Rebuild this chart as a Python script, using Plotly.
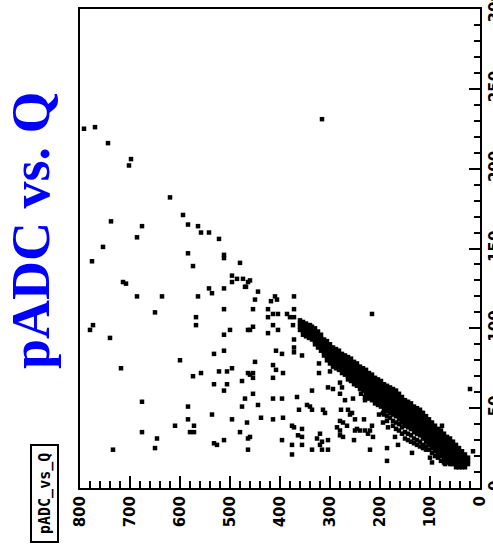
import plotly.graph_objects as go

# Isolated events: pulse ADC value and charge Q
padc_sparse = [
    792, 770, 744, 698, 702, 620, 594, 584, 564, 558, 542, 522, 738, 676, 686, 754,
    776, 584, 574, 512, 512, 480, 496, 486, 474, 496, 468, 464, 714, 708, 686, 636,
    564, 542, 536, 512, 512, 650, 568, 568, 774, 780, 740, 500, 512, 464, 532, 512,
    600, 718, 574, 558, 522, 506, 496, 464, 532, 506, 512, 476, 676, 470, 584, 476,
    536, 584, 572, 610, 496, 466, 580, 572, 676, 480, 646, 532, 526, 512, 464, 650,
    734, 464, 460, 470, 444, 450, 410, 418, 406, 372, 454, 424, 372, 424, 414, 404,
    386, 380, 372, 216, 454, 414, 374, 356, 340, 460, 404, 424, 372, 372, 372, 356,
    408, 396, 450, 414, 408, 414, 394, 454, 460, 454, 322, 322, 300, 336, 304, 294,
    280, 276, 280, 454, 444, 414, 396, 366, 362, 346, 340, 336, 314, 310, 278, 264,
    270, 254, 238, 230, 230, 438, 414, 394, 376, 372, 356, 364, 356, 320, 286, 280,
    274, 266, 280, 260, 250, 256, 232, 280, 274, 250, 240, 230, 220, 224, 214, 246,
    252, 216, 460, 396, 376, 356, 326, 316, 304, 320, 316, 304, 336, 376, 220, 186,
    186, 202, 194, 186, 184, 20, 14, 164, 170, 194, 184, 136, 100, 96, 70, 76,
    76, 134, 116, 154, 316,
]
q_sparse = [
    225, 226, 216, 206, 202, 182, 171, 165, 164, 160, 160, 156, 167, 164, 157, 151,
    142, 147, 139, 146, 144, 141, 133, 131, 131, 129, 126, 129, 129, 128, 120, 120,
    120, 125, 122, 125, 112, 110, 107, 102, 102, 99, 94, 99, 96, 99, 84, 86,
    80, 75, 70, 72, 73, 73, 75, 72, 65, 65, 61, 67, 54, 56, 51, 51,
    46, 43, 39, 39, 43, 41, 35, 35, 35, 35, 31, 28, 27, 30, 31, 25,
    24, 24, 130, 126, 123, 118, 120, 117, 118, 120, 112, 112, 112, 107, 109, 109,
    109, 107, 107, 109, 101, 102, 102, 101, 102, 99, 99, 97, 93, 88, 85, 83,
    86, 84, 79, 77, 74, 69, 72, 72, 71, 69, 78, 72, 73, 61, 63, 62,
    66, 63, 59, 59, 52, 56, 56, 57, 49, 52, 51, 49, 49, 47, 49, 49,
    55, 56, 59, 57, 55, 44, 43, 44, 39, 38, 37, 33, 32, 34, 38, 42,
    41, 39, 36, 46, 43, 47, 43, 33, 32, 36, 36, 36, 36, 34, 32, 37,
    30, 39, 32, 30, 27, 27, 31, 29, 30, 27, 24, 24, 24, 21, 24, 25,
    17, 46, 47, 42, 49, 62, 23, 27, 32, 41, 38, 22, 19, 16, 15, 39,
    32, 38, 47, 55, 231,
]

# Dense correlated band: pADC column value and the Q values recorded at it
band_padc = [
    360, 354, 348, 342, 336, 330, 324, 318, 312, 306, 300, 294, 288, 282, 276, 270,
    264, 258, 252, 246, 240, 234, 228, 222, 216, 210, 204, 198, 192, 186, 180, 174,
    168, 162, 156, 150, 144, 138, 132, 126, 120, 114, 108, 102, 96, 90, 84, 78,
    72, 66, 60, 54, 48, 42, 36, 30, 24,
]
band_q = [
    [105, 103, 101, 99],
    [104, 102, 100, 98, 96],
    [103, 101, 99, 97, 95],
    [102, 100, 98, 96, 94],
    [101, 99, 97, 95, 93],
    [100, 98, 96, 94, 92, 90],
    [98, 96, 94, 92, 90, 88],
    [96, 94, 92, 90, 88, 86],
    [93, 91, 89, 87, 85, 83],
    [92, 90, 88, 86, 84, 82, 80],
    [90, 88, 86, 84, 82, 80, 78],
    [88, 86, 84, 82, 80, 78, 76],
    [87, 85, 83, 81, 79, 77, 75],
    [86, 84, 82, 80, 78, 76, 74],
    [84, 82, 80, 78, 76, 74, 72],
    [83, 81, 79, 77, 75, 73, 71],
    [82, 80, 78, 76, 74, 72, 70, 68],
    [81, 79, 77, 75, 73, 71, 69, 67],
    [79, 77, 75, 73, 71, 69, 67, 65],
    [78, 76, 74, 72, 70, 68, 66, 64],
    [76, 74, 72, 70, 68, 66, 64, 62],
    [75, 73, 71, 69, 67, 65, 63, 61],
    [74, 72, 70, 68, 66, 64, 62, 60, 58],
    [72, 70, 68, 66, 64, 62, 60, 58, 56],
    [71, 69, 67, 65, 63, 61, 59, 57, 55],
    [69, 67, 65, 63, 61, 59, 57, 55, 53],
    [68, 66, 64, 62, 60, 58, 56, 54, 52],
    [67, 65, 63, 61, 59, 57, 55, 53, 51],
    [65, 63, 61, 59, 57, 55, 53, 51, 49, 46],
    [64, 62, 60, 58, 56, 54, 52, 50, 48, 45],
    [63, 61, 59, 57, 55, 53, 51, 49, 47, 44],
    [62, 60, 58, 56, 54, 52, 50, 48, 46, 42, 39],
    [61, 59, 57, 55, 53, 51, 49, 47, 45, 41, 37],
    [59, 57, 55, 53, 51, 49, 47, 45, 43, 40, 36],
    [57, 55, 53, 51, 49, 47, 45, 43, 41, 38, 34],
    [55, 53, 51, 49, 47, 45, 43, 41, 39, 35, 31],
    [54, 52, 50, 48, 46, 44, 42, 40, 38, 34, 30],
    [53, 51, 49, 47, 45, 43, 41, 39, 37, 33, 29],
    [51, 49, 47, 45, 43, 41, 39, 37, 35, 31, 28],
    [50, 48, 46, 44, 42, 40, 38, 36, 34, 30, 27],
    [49, 47, 45, 43, 41, 39, 37, 35, 33, 29, 26],
    [47, 45, 43, 41, 39, 37, 35, 33, 31, 27, 25],
    [45, 43, 41, 39, 37, 35, 33, 31, 29, 26, 24],
    [43, 41, 39, 37, 35, 33, 31, 29, 27, 24],
    [41, 39, 37, 35, 33, 31, 29, 27, 25, 22],
    [39, 37, 35, 33, 31, 29, 27, 25, 23, 20],
    [37, 35, 33, 31, 29, 27, 25, 23, 21, 19],
    [36, 34, 32, 30, 28, 26, 24, 22, 20, 17],
    [34, 32, 30, 28, 26, 24, 22, 20, 18, 16],
    [32, 30, 28, 26, 24, 22, 20, 18, 16],
    [31, 29, 27, 25, 23, 21, 19, 17, 15],
    [29, 27, 25, 23, 21, 19, 17, 15],
    [27, 25, 23, 21, 19, 17, 15, 13],
    [25, 23, 21, 19, 17, 15, 13],
    [23, 21, 19, 17, 15, 13],
    [21, 19, 17, 15, 13],
    [19, 17, 15],
]

padc_ticks = [0, 100, 200, 300, 400, 500, 600, 700, 800]
q_ticks = [0, 50, 100, 150, 200, 250, 300]

# Flatten the band columns into point lists
padc_all = list(padc_sparse)
q_all = list(q_sparse)
for p, qs in zip(band_padc, band_q):
    for q in qs:
        padc_all.append(p)
        q_all.append(q)

tick_font = dict(family="DejaVu Sans", size=15, color="black", weight="bold")

fig = go.Figure()
fig.add_trace(go.Scatter(
    x=padc_all, y=q_all, mode="markers",
    marker=dict(symbol="square", size=4.5, color="black", line=dict(width=0)),
    hoverinfo="skip",
))

fig.update_layout(
    width=493, height=558,
    margin=dict(l=80, r=13, t=9, b=70),
    plot_bgcolor="white", paper_bgcolor="white",
    showlegend=False,
    xaxis=dict(
        range=[800, 0], tickvals=padc_ticks, ticktext=[str(v) for v in padc_ticks],
        ticks="inside", ticklen=12, tickwidth=2, tickcolor="black",
        minor=dict(ticks="inside", ticklen=7, tickwidth=2, tickcolor="black", dtick=20, tick0=0),
        showline=True, linewidth=2, linecolor="black", mirror=True, automargin=False,
        showgrid=False, zeroline=False, tickangle=-90, tickfont=tick_font,
    ),
    yaxis=dict(
        side="right", range=[0, 300], tickvals=q_ticks, ticktext=[str(v) for v in q_ticks],
        ticks="inside", ticklen=11, tickwidth=2, tickcolor="black",
        minor=dict(ticks="inside", ticklen=6, tickwidth=2, tickcolor="black", dtick=10, tick0=0),
        showline=True, linewidth=2, linecolor="black", mirror=True, automargin=False,
        showgrid=False, zeroline=False, tickangle=-90, tickfont=tick_font,
        ticklabeloverflow="allow",
    ),
)

# Histogram name box
fig.add_shape(type="rect", xref="paper", yref="paper",
              x0=-0.1225, x1=-0.055, y0=-0.1127, y1=0.0898,
              line=dict(color="black", width=2), fillcolor="white")
fig.add_annotation(text="pADC_vs_Q", xref="paper", yref="paper",
                   x=-0.08875, y=-0.0115, showarrow=False, textangle=-90,
                   xanchor="center", yanchor="middle",
                   font=dict(family="DejaVu Sans Mono", size=15, color="black", weight="bold"))

# Vertical title
fig.add_annotation(text="pADC vs. Q", xref="paper", yref="paper",
                   x=-0.1225, y=0.5386, showarrow=False, textangle=-90,
                   xanchor="center", yanchor="middle",
                   font=dict(family="Liberation Serif", size=54, color="#0000ff", weight="bold"))

fig.write_html("out.html")
